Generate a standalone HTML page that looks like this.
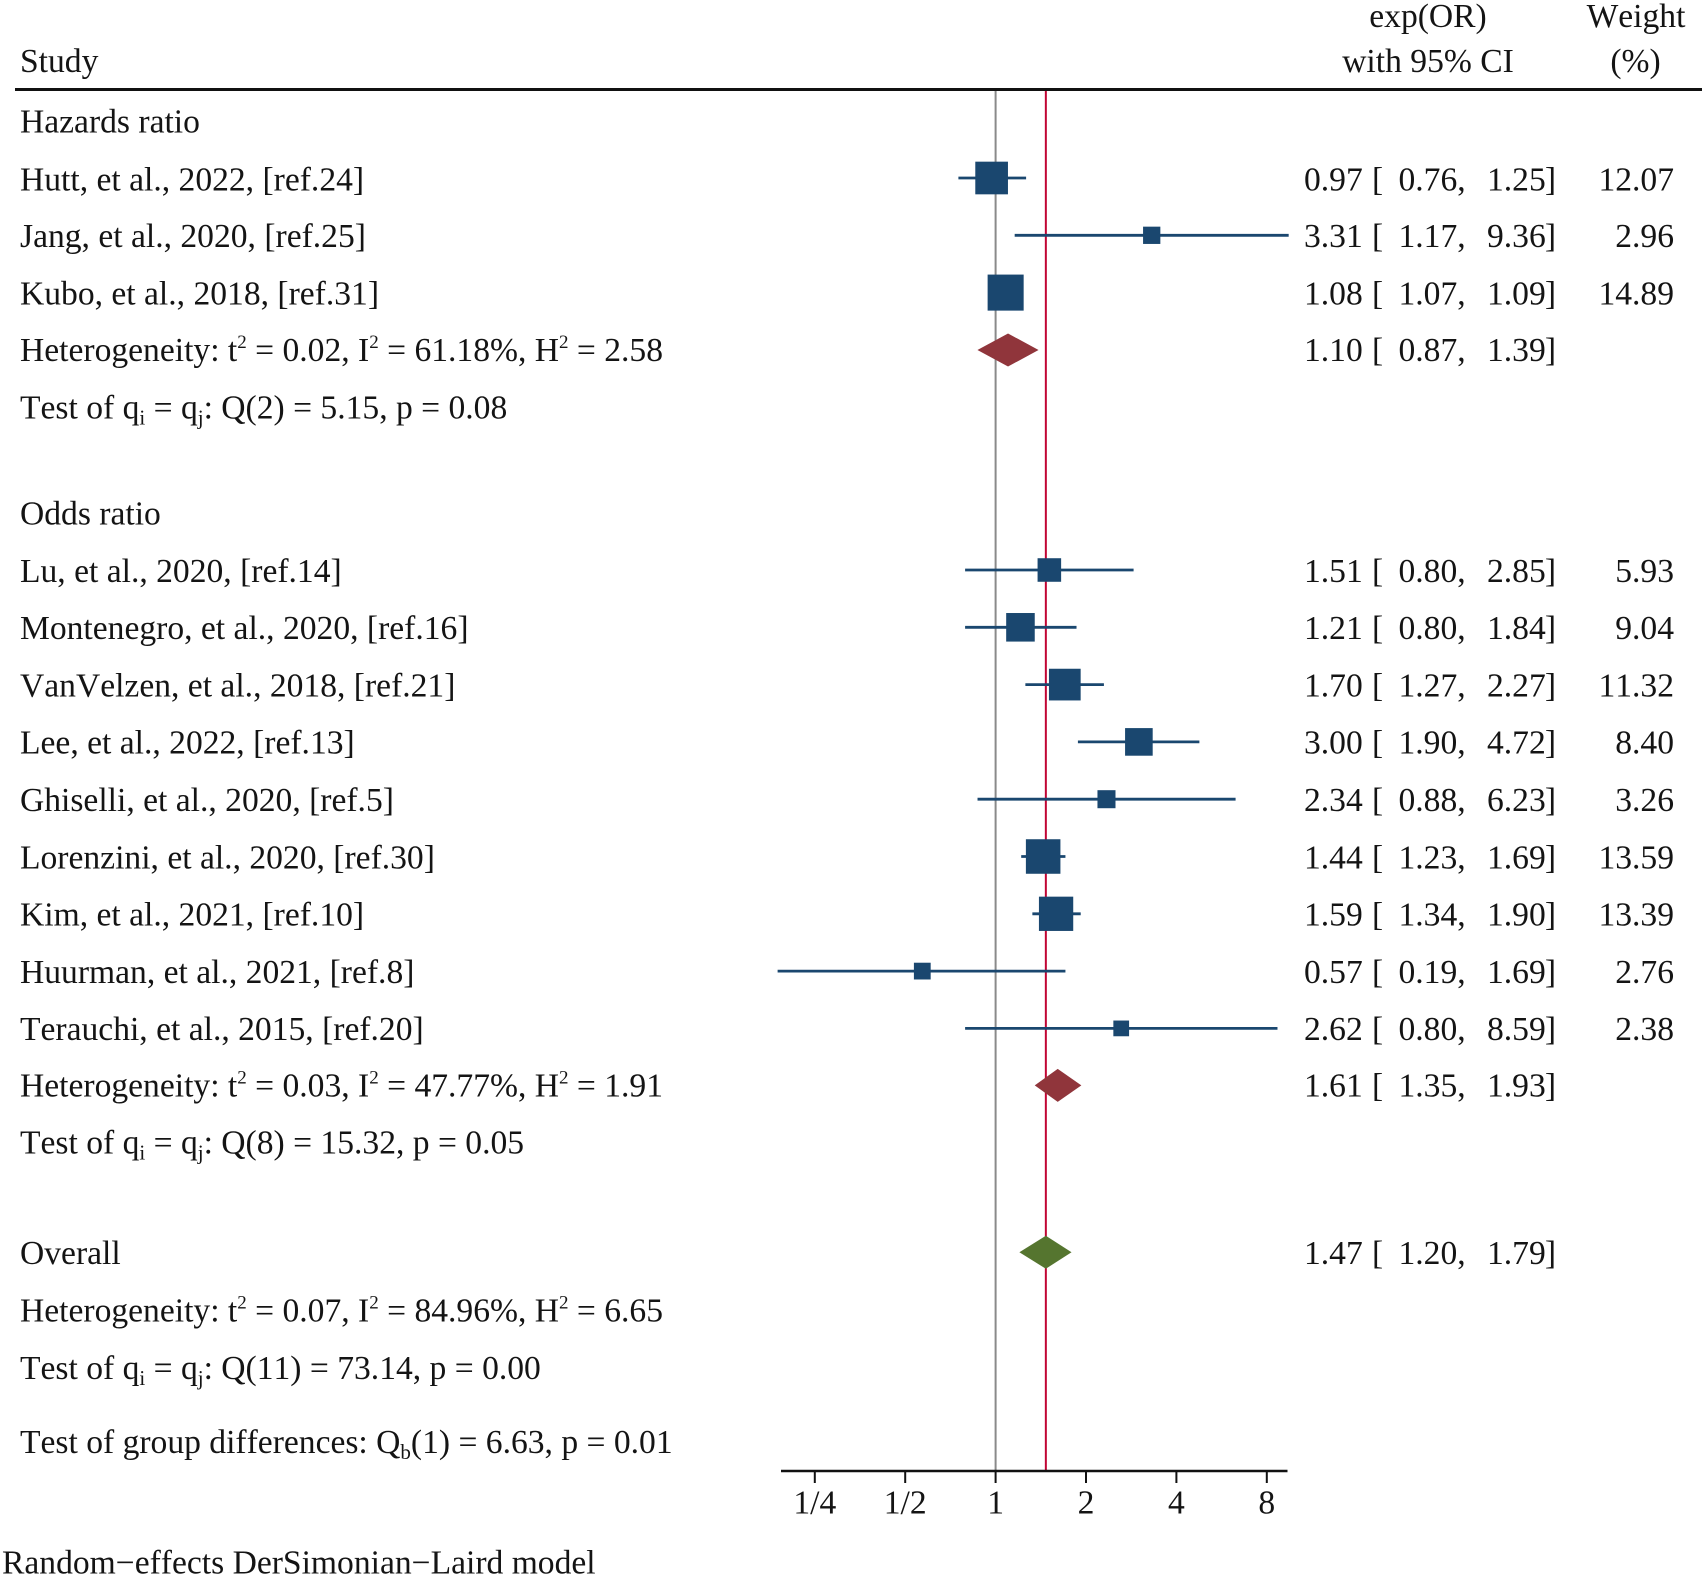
<!DOCTYPE html>
<html lang="en">
<head>
<meta charset="utf-8">
<title>Forest plot</title>
<style>
html,body{margin:0;padding:0;background:#fff;}
svg{display:block;}
text{font-family:"Liberation Serif",serif;font-size:33.6px;fill:#141414;font-kerning:none;}
</style>
</head>
<body>
<svg id="chart" xmlns="http://www.w3.org/2000/svg" width="1705" height="1576" viewBox="0 0 1705 1576">
<rect x="0" y="0" width="1705" height="1576" fill="#fff"/>
<g>
<text x="20" y="72">Study</text>
<text x="1428" y="27" text-anchor="middle">exp(OR)</text>
<text x="1428" y="72" text-anchor="middle">with 95% CI</text>
<text x="1636" y="27" text-anchor="middle">Weight</text>
<text x="1635.5" y="72" text-anchor="middle">(%)</text>
<line x1="15" x2="1702" y1="89.5" y2="89.5" stroke="#111" stroke-width="3"/>
</g>
<g>
<text x="20" y="361">Heterogeneity: t<tspan dy="-13" font-size="19">2</tspan><tspan dy="13"> = 0.02, I</tspan><tspan dy="-13" font-size="19">2</tspan><tspan dy="13"> = 61.18%, H</tspan><tspan dy="-13" font-size="19">2</tspan><tspan dy="13"> = 2.58</tspan></text>
<text x="20" y="418.5">Test of q<tspan dy="6" font-size="21">i</tspan><tspan dy="-6"> = q</tspan><tspan dy="6" font-size="21">j</tspan><tspan dy="-6">: Q(2) = 5.15, p = 0.08</tspan></text>
<text x="20" y="1096.5">Heterogeneity: t<tspan dy="-13" font-size="19">2</tspan><tspan dy="13"> = 0.03, I</tspan><tspan dy="-13" font-size="19">2</tspan><tspan dy="13"> = 47.77%, H</tspan><tspan dy="-13" font-size="19">2</tspan><tspan dy="13"> = 1.91</tspan></text>
<text x="20" y="1153.5">Test of q<tspan dy="6" font-size="21">i</tspan><tspan dy="-6"> = q</tspan><tspan dy="6" font-size="21">j</tspan><tspan dy="-6">: Q(8) = 15.32, p = 0.05</tspan></text>
<text x="20" y="1321.5">Heterogeneity: t<tspan dy="-13" font-size="19">2</tspan><tspan dy="13"> = 0.07, I</tspan><tspan dy="-13" font-size="19">2</tspan><tspan dy="13"> = 84.96%, H</tspan><tspan dy="-13" font-size="19">2</tspan><tspan dy="13"> = 6.65</tspan></text>
<text x="20" y="1379">Test of q<tspan dy="6" font-size="21">i</tspan><tspan dy="-6"> = q</tspan><tspan dy="6" font-size="21">j</tspan><tspan dy="-6">: Q(11) = 73.14, p = 0.00</tspan></text>
<text x="20" y="1453">Test of group differences: Q<tspan dy="6" font-size="21">b</tspan><tspan dy="-6">(1) = 6.63, p = 0.01</tspan></text>
<text x="2" y="1573.5">Random−effects DerSimonian−Laird model</text>
</g>
<g id="marks"></g>
</svg>
<script>
const studyLabels = ["Hutt, et al., 2022, [ref.24]", "Jang, et al., 2020, [ref.25]", "Kubo, et al., 2018, [ref.31]", "Lu, et al., 2020, [ref.14]", "Montenegro, et al., 2020, [ref.16]", "VanVelzen, et al., 2018, [ref.21]", "Lee, et al., 2022, [ref.13]", "Ghiselli, et al., 2020, [ref.5]", "Lorenzini, et al., 2020, [ref.30]", "Kim, et al., 2021, [ref.10]", "Huurman, et al., 2021, [ref.8]", "Terauchi, et al., 2015, [ref.20]"];
const studyEffect = [0.97, 3.31, 1.08, 1.51, 1.21, 1.70, 3.00, 2.34, 1.44, 1.59, 0.57, 2.62];
const studyLower = [0.76, 1.17, 1.07, 0.80, 0.80, 1.27, 1.90, 0.88, 1.23, 1.34, 0.19, 0.80];
const studyUpper = [1.25, 9.36, 1.09, 2.85, 1.84, 2.27, 4.72, 6.23, 1.69, 1.90, 1.69, 8.59];
const studyWeight = [12.07, 2.96, 14.89, 5.93, 9.04, 11.32, 8.40, 3.26, 13.59, 13.39, 2.76, 2.38];
const summaryLabels = ["Hazards ratio", "Odds ratio", "Overall"];
const summaryEffect = [1.10, 1.61, 1.47];
const summaryLower = [0.87, 1.35, 1.20];
const summaryUpper = [1.39, 1.93, 1.79];
const tickValues = [0.25, 0.5, 1, 2, 4, 8];
const tickLabels = ["1/4", "1/2", "1", "2", "4", "8"];
const referenceValue = 1;
const hazardStudyCount = 3;

const NS = "http://www.w3.org/2000/svg";
const root = document.getElementById("marks");
const ROW = 57.3;

function xScale(v) { return 995.6 + 90.4 * Math.log2(v); }
function studyY(i) { return i < hazardStudyCount ? 178 + ROW * i : 570 + ROW * (i - hazardStudyCount); }
function studyBase(i) { return i === 0 ? 190.7 : studyY(i) + 11.8; }
function summaryMarkY(i) { return [350, 1085.4, 1252.3][i]; }
function summaryValueBase(i) { return [361, 1096.5, 1264][i]; }
function summaryHeadBase(i) { return [132.7, 524.5, 1264][i]; }
function squareSize(w) { return 2.2 + 8.77 * Math.sqrt(w); }
function make(tag, attrs, txt) {
  const el = document.createElementNS(NS, tag);
  for (const k in attrs) el.setAttribute(k, attrs[k]);
  if (txt !== undefined) el.textContent = txt;
  root.appendChild(el);
  return el;
}
function effectColumns(prefix, base, e, lo, hi) {
  let el = make("text", {x: 1304, y: base}, e.toFixed(2));
  
  
  el = make("text", {x: 1372, y: base}, "[");
  
  
  el = make("text", {x: 1398.5, y: base}, lo.toFixed(2) + ",");
  
  
  el = make("text", {x: 1487, y: base}, hi.toFixed(2));
  
  
  el = make("text", {x: 1556, y: base, "text-anchor": "end"}, "]");
  
  
}

// reference lines
const refLine = make("line", {x1: xScale(referenceValue), x2: xScale(referenceValue), y1: 91, y2: 1471, stroke: "#8a8a8a", "stroke-width": 2});


const overallLine = make("line", {x1: xScale(summaryEffect[2]), x2: xScale(summaryEffect[2]), y1: 91, y2: 1471, stroke: "#c10534", "stroke-width": 2});



// axis
const axisLine = make("line", {x1: 781, x2: 1287.5, y1: 1471, y2: 1471, stroke: "#111", "stroke-width": 2.5});


tickValues.forEach(function (v, i) {
  const tick = make("line", {x1: xScale(v), x2: xScale(v), y1: 1471, y2: 1483, stroke: "#111", "stroke-width": 2});
  
  
  const lab = make("text", {x: xScale(v), y: 1513.5, "text-anchor": "middle"}, tickLabels[i]);
  
  
});

// studies
studyLabels.forEach(function (label, i) {
  const y = studyY(i);
  const base = studyBase(i);
  const name = make("text", {x: 20, y: base}, label);
  
  
  const ci = make("line", {x1: xScale(studyLower[i]), x2: xScale(studyUpper[i]), y1: y, y2: y, stroke: "#1a476f", "stroke-width": 2.8, "stroke-linecap": "square"});
  
  
  const s = squareSize(studyWeight[i]);
  const sq = make("rect", {x: xScale(studyEffect[i]) - s / 2, y: y - s / 2, width: s, height: s, fill: "#1a476f"});
  
  
  effectColumns('study', base, studyEffect[i], studyLower[i], studyUpper[i]);
  const w = make("text", {x: 1674, y: base, "text-anchor": "end"}, studyWeight[i].toFixed(2));
  
  
});

// summaries
const summaryFill = ["#90353b", "#90353b", "#55752f"];
summaryLabels.forEach(function (label, i) {
  const head = make("text", {x: 20, y: summaryHeadBase(i)}, label);
  
  
  const y = summaryMarkY(i);
  const pts = [[xScale(summaryLower[i]), y], [xScale(summaryEffect[i]), y - 16.5], [xScale(summaryUpper[i]), y], [xScale(summaryEffect[i]), y + 16.5]];
  const d = make("polygon", {points: pts.map(function (p) { return p.join(","); }).join(" "), fill: summaryFill[i]});
  
  
  effectColumns('summary', summaryValueBase(i), summaryEffect[i], summaryLower[i], summaryUpper[i]);
});
</script>
</body>
</html>
